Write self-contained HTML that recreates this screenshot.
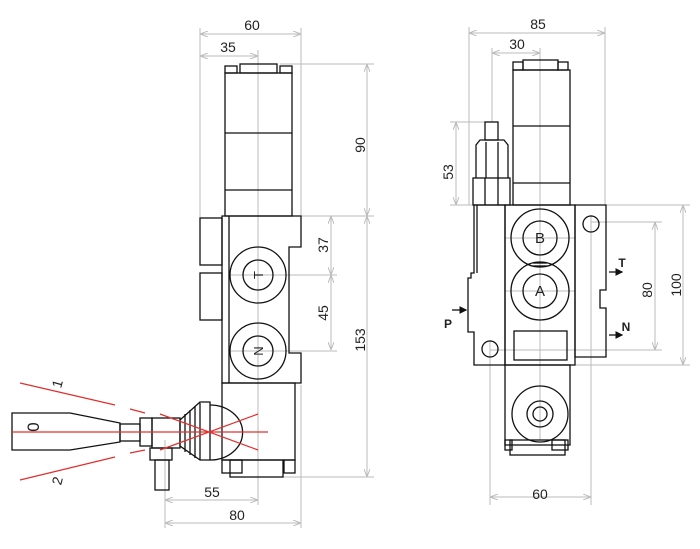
<!DOCTYPE html>
<html><head><meta charset="utf-8"><style>
html,body{margin:0;padding:0;background:#fff;}
svg{display:block;}
text{font-family:"Liberation Sans",Arial,sans-serif;font-size:14px;fill:#222;}
.d{stroke:#bbb;stroke-width:1;fill:none}
.k{stroke:#111;stroke-width:1.3;fill:none}
.r{stroke:#e03030;stroke-width:1.2;fill:none}
</style></head><body>
<svg width="700" height="549" viewBox="0 0 700 549" xmlns="http://www.w3.org/2000/svg">
<defs><marker id="a" markerWidth="8" markerHeight="6" refX="7" refY="3" orient="auto-start-reverse"><path d="M0,0 L8,3 L0,6" fill="none" stroke="#bbb"/></marker>
<marker id="b" markerWidth="6" markerHeight="6" refX="5" refY="3" orient="auto"><path d="M0,0 L6,3 L0,6z" fill="#111"/></marker></defs>

<g class="d">
<line x1="200" y1="28" x2="200" y2="218"/><line x1="301" y1="28" x2="301" y2="216"/>
<line x1="201" y1="34" x2="300" y2="34" marker-start="url(#a)" marker-end="url(#a)"/>
<line x1="201" y1="56" x2="257" y2="56" marker-start="url(#a)" marker-end="url(#a)"/>
<line x1="258" y1="50" x2="258" y2="505"/>
<line x1="280" y1="64" x2="374" y2="64"/><line x1="301" y1="216" x2="374" y2="216"/>
<line x1="367" y1="65" x2="367" y2="215" marker-start="url(#a)" marker-end="url(#a)"/>
<line x1="367" y1="217" x2="367" y2="476" marker-start="url(#a)" marker-end="url(#a)"/>
<line x1="283" y1="477" x2="374" y2="477"/>
<line x1="331" y1="217" x2="331" y2="274" marker-start="url(#a)" marker-end="url(#a)"/>
<line x1="331" y1="276" x2="331" y2="349" marker-start="url(#a)" marker-end="url(#a)"/>
<line x1="230" y1="275" x2="337" y2="275"/><line x1="230" y1="351" x2="337" y2="351"/>
<line x1="165" y1="440" x2="165" y2="528"/><line x1="301" y1="385" x2="301" y2="528"/>
<line x1="166" y1="500" x2="257" y2="500" marker-start="url(#a)" marker-end="url(#a)"/>
<line x1="166" y1="523" x2="300" y2="523" marker-start="url(#a)" marker-end="url(#a)"/>
</g>
<text x="252" y="30" text-anchor="middle">60</text>
<text x="228" y="52" text-anchor="middle">35</text>
<text transform="translate(365,145) rotate(-90)" text-anchor="middle">90</text>
<text transform="translate(328,245) rotate(-90)" text-anchor="middle">37</text>
<text transform="translate(328,313) rotate(-90)" text-anchor="middle">45</text>
<text transform="translate(365,340) rotate(-90)" text-anchor="middle">153</text>
<text x="212" y="497" text-anchor="middle">55</text>
<text x="237" y="520" text-anchor="middle">80</text>

<g class="k">
<rect x="240" y="64" width="37" height="9"/><rect x="225" y="66" width="12" height="7"/><rect x="280" y="66" width="12" height="7"/>
<rect x="225" y="73" width="67" height="143"/><line x1="225" y1="133" x2="292" y2="133"/><line x1="225" y1="190" x2="292" y2="190"/>
<path d="M222,216 H301 V247 H289 V353 H301 V383 H222 Z"/>
<line x1="229" y1="216" x2="229" y2="383"/>
<rect x="200" y="218" width="22" height="47"/><rect x="200" y="273" width="22" height="47"/>
<rect x="222" y="383" width="73" height="77"/>
<rect x="230" y="460" width="53" height="17"/><rect x="222" y="460" width="20" height="13"/><rect x="284" y="460" width="11" height="13"/>
<circle cx="258" cy="275" r="28"/><circle cx="258" cy="275" r="15"/>
<circle cx="258" cy="351" r="28"/><circle cx="258" cy="351" r="15"/>
<path d="M12,413 H70 L120,423 V442 L70,450 H12 Z"/>
<rect x="120" y="424" width="20" height="17"/>
<rect x="140" y="418" width="12" height="28"/>
<rect x="152" y="418" width="28" height="30"/>
<path d="M180,420 L200,402 H210 V460 H200 L180,446 Z"/>
<line x1="185" y1="414" x2="185" y2="452"/><line x1="190" y1="410" x2="190" y2="455"/><line x1="195" y1="406" x2="195" y2="458"/><line x1="200" y1="403" x2="200" y2="460"/>
<path d="M210,405 A32,27 0 0 1 210,460"/>
<rect x="150" y="448" width="22" height="12"/><rect x="155" y="460" width="14" height="30"/>
</g>
<g class="r">
<line x1="12" y1="432" x2="268" y2="432"/>
<line x1="20" y1="383" x2="115" y2="405"/><line x1="130" y1="409" x2="145" y2="413"/>
<line x1="20" y1="480" x2="115" y2="457"/><line x1="130" y1="453" x2="145" y2="450"/>
<line x1="160" y1="414" x2="258" y2="450"/><line x1="160" y1="450" x2="258" y2="414"/>
</g>
<text transform="translate(62,385) rotate(-75)" text-anchor="middle">1</text>
<text transform="translate(39,427) rotate(-90)" text-anchor="middle" style="font-size:17px">0</text>
<text transform="translate(62,482) rotate(-75)" text-anchor="middle">2</text>

<g class="d">
<line x1="469" y1="27" x2="469" y2="205"/><line x1="605" y1="27" x2="605" y2="205"/>
<line x1="470" y1="33" x2="604" y2="33" marker-start="url(#a)" marker-end="url(#a)"/>
<line x1="492" y1="48" x2="492" y2="122"/>
<line x1="493" y1="53" x2="539" y2="53" marker-start="url(#a)" marker-end="url(#a)"/>
<line x1="540" y1="48" x2="540" y2="440"/>
<line x1="450" y1="122" x2="490" y2="122"/><line x1="450" y1="205" x2="474" y2="205"/>
<line x1="456" y1="123" x2="456" y2="204" marker-start="url(#a)" marker-end="url(#a)"/>
<line x1="606" y1="205" x2="690" y2="205"/><line x1="483" y1="365" x2="690" y2="365"/>
<line x1="591" y1="222" x2="662" y2="222"/><line x1="490" y1="350" x2="662" y2="350"/>
<line x1="655" y1="223" x2="655" y2="349" marker-start="url(#a)" marker-end="url(#a)"/>
<line x1="683" y1="206" x2="683" y2="364" marker-start="url(#a)" marker-end="url(#a)"/>
<line x1="490" y1="340" x2="490" y2="505"/><line x1="591" y1="215" x2="591" y2="505"/>
<line x1="491" y1="497" x2="590" y2="497" marker-start="url(#a)" marker-end="url(#a)"/>
<line x1="505" y1="238" x2="575" y2="238"/><line x1="505" y1="291" x2="575" y2="291"/>
</g>
<text x="538" y="29" text-anchor="middle">85</text>
<text x="517" y="49" text-anchor="middle">30</text>
<text transform="translate(453,172) rotate(-90)" text-anchor="middle">53</text>
<text transform="translate(652,290) rotate(-90)" text-anchor="middle">80</text>
<text transform="translate(681,285) rotate(-90)" text-anchor="middle">100</text>
<text x="540" y="499" text-anchor="middle">60</text>

<g class="k">
<rect x="523" y="60" width="35" height="10"/><rect x="513" y="62" width="10" height="8"/><rect x="558" y="62" width="10" height="8"/>
<rect x="513" y="70" width="57" height="135"/><line x1="513" y1="126" x2="570" y2="126"/><line x1="513" y1="183" x2="570" y2="183"/>
<rect x="505" y="205" width="70" height="160"/>
<path d="M474,205 H505 V365 H474 V332 H468 V278 H471 V273 H474 Z"/>
<line x1="477" y1="205" x2="477" y2="273"/>
<path d="M575,205 H606 V290 H600 V308 H606 V357 H575 Z"/>
<circle cx="540" cy="238" r="29"/><circle cx="540" cy="238" r="17"/>
<circle cx="540" cy="291" r="29"/><circle cx="540" cy="291" r="17"/>
<line x1="533" y1="263" x2="547" y2="263"/><line x1="533" y1="266" x2="547" y2="266"/>
<rect x="514" y="331" width="53" height="29"/>
<circle cx="591" cy="224" r="8"/><circle cx="490" cy="349" r="8"/>
<rect x="473" y="178" width="37" height="27"/><line x1="485" y1="178" x2="485" y2="205"/><line x1="498" y1="178" x2="498" y2="205"/>
<path d="M476,178 V145 L480,140 H504 L508,145 V178"/><line x1="486" y1="142" x2="486" y2="178"/><line x1="498" y1="142" x2="498" y2="178"/>
<rect x="485" y="122" width="13" height="18"/>
<rect x="505" y="365" width="65" height="80"/>
<circle cx="540" cy="414" r="28"/><circle cx="540" cy="414" r="13"/><circle cx="540" cy="414" r="7"/>
<rect x="510" y="440" width="55" height="15"/><rect x="505" y="440" width="7" height="10"/><rect x="552" y="440" width="16" height="10"/>
<line x1="609" y1="272" x2="622" y2="272" marker-end="url(#b)"/>
<line x1="609" y1="335" x2="622" y2="335" marker-end="url(#b)"/>
<line x1="452" y1="310" x2="466" y2="310" marker-end="url(#b)"/>
</g>
<text x="540" y="243" text-anchor="middle" style="font-size:15px">B</text>
<text x="540" y="296" text-anchor="middle" style="font-size:15px">A</text>
<text transform="translate(263,275) rotate(-90)" text-anchor="middle" style="font-size:13px">T</text>
<text transform="translate(263,351) rotate(-90)" text-anchor="middle" style="font-size:13px">N</text>
<text x="622" y="267" text-anchor="middle" style="font-size:12px;font-weight:bold">T</text>
<text x="626" y="331" text-anchor="middle" style="font-size:12px;font-weight:bold">N</text>
<text x="448" y="328" text-anchor="middle" style="font-size:12px;font-weight:bold">P</text>
</svg>
</body></html>
